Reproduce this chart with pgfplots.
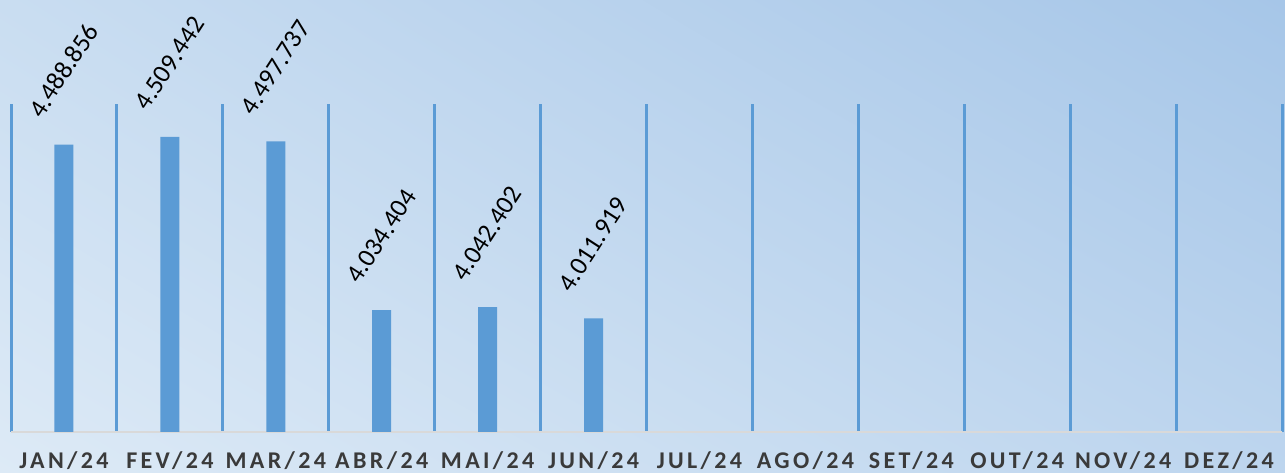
\documentclass[border=0pt]{standalone}
\usepackage{pgfplots}
\pgfplotsset{compat=1.18}
\usetikzlibrary{shadings}
\usepackage{fontspec}
\setmainfont{Carlito}
\newfontfamily\catfont[LetterSpace=14]{Carlito}
\definecolor{barblue}{HTML}{5B9BD5}
\definecolor{bgLL}{HTML}{DDEAF6}
\definecolor{bgUL}{HTML}{C9DDF1}
\definecolor{bgLR}{HTML}{BDD5EE}
\definecolor{bgUR}{HTML}{A6C6E8}
\definecolor{lblgray}{HTML}{3A3A3A}
\pgfplotstableread{
x y lbl
0 4488856 4.488.856
1 4509442 4.509.442
2 4497737 4.497.737
3 4034404 4.034.404
4 4042402 4.042.402
5 4011919 4.011.919
}\datatable
\begin{document}
\begin{tikzpicture}[x=1pt,y=1pt]
\shade[lower left=bgLL, upper left=bgUL, lower right=bgLR, upper right=bgUR] (0,0) rectangle (1285,473);
\begin{axis}[
  at={(11pt,41pt)}, anchor=south west,
  scale only axis, width=1271pt, height=328pt,
  xmin=-0.5, xmax=11.5, ymin=3700000, ymax=4600000,
  axis y line=none,
  axis x line*=bottom,
  x axis line style={-, draw=black!15, line width=1.5pt},
  xtick={0,...,11},
  xticklabels={JAN/24,FEV/24,MAR/24,ABR/24,MAI/24,JUN/24,JUL/24,AGO/24,SET/24,OUT/24,NOV/24,DEZ/24},
  minor xtick={-0.5,0.5,...,11.5},
  major tick length=0pt, minor tick length=0pt,
  xminorgrids=true,
  minor grid style={draw=barblue, line width=3pt},
  xticklabel style={font=\catfont\bfseries\fontsize{24}{28}\selectfont, text=lblgray, inner sep=0pt, anchor=north, yshift=-19pt},
  clip=false,
]
\addplot[ybar, bar width=19pt, fill=barblue, draw=none,
  point meta=explicit symbolic,
  nodes near coords,
  nodes near coords style={font=\fontsize{26}{30}\selectfont, text=black, xshift=-22pt, yshift=25pt, rotate=57, anchor=base west, inner sep=0pt},
] table[x=x, y=y, meta=lbl] {\datatable};
\end{axis}
\pgfresetboundingbox
\path (0,0) rectangle (1285,473);
\end{tikzpicture}
\end{document}
